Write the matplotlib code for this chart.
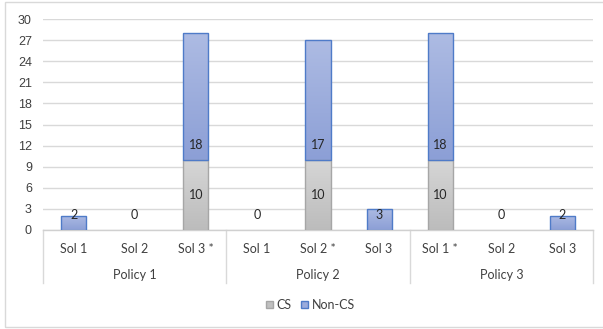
import numpy as np
import matplotlib.pyplot as plt
from matplotlib.patches import Rectangle
from matplotlib.colors import LinearSegmentedColormap

plt.rcParams['font.family'] = ['Lato', 'DejaVu Sans']

sols = ['Sol 1', 'Sol 2', 'Sol 3 *', 'Sol 1', 'Sol 2 *', 'Sol 3', 'Sol 1 *', 'Sol 2', 'Sol 3']
policies = ['Policy 1', 'Policy 2', 'Policy 3']
cs = [0, 0, 10, 0, 10, 0, 10, 0, 0]
non_cs = [2, 0, 18, 0, 17, 3, 18, 0, 2]
yticks = list(range(0, 31, 3))

W, H = 603, 329
fig = plt.figure(figsize=(W / 100, H / 100), dpi=100)
ax = fig.add_axes([43 / W, (H - 230) / H, 550 / W, 211 / H])

x = np.arange(len(sols))
bw = 0.41

grey_cmap = LinearSegmentedColormap.from_list('g', ['#bcbcbc', '#d6d6d6'])
blue_cmap = LinearSegmentedColormap.from_list('b', ['#8c9fd6', '#adbbe3'])
grad = np.linspace(0, 1, 64).reshape(-1, 1)


def gradient_bar(xc, bottom, height, cmap, edge):
    if height <= 0:
        return
    rect = Rectangle((xc - bw / 2, bottom), bw, height, facecolor='none',
                     edgecolor=edge, linewidth=1.0, zorder=3)
    ax.add_patch(rect)
    im = ax.imshow(grad, cmap=cmap, origin='lower', aspect='auto',
                   extent=(xc - bw / 2, xc + bw / 2, bottom, bottom + height), zorder=2)
    im.set_clip_path(rect)


for i in range(len(sols)):
    gradient_bar(x[i], 0, cs[i], grey_cmap, '#a6a6a6')
    gradient_bar(x[i], cs[i], non_cs[i], blue_cmap, '#4f7bc8')
    if cs[i] > 0:
        ax.text(x[i], cs[i] / 2, str(cs[i]), ha='center', va='center',
                fontsize=9, color='#262626', zorder=4)
    ax.annotate(str(non_cs[i]), (x[i], cs[i]), xytext=(0, 10.8),
                textcoords='offset points', ha='center', va='center',
                fontsize=9, color='#262626', zorder=4)

ax.set_xlim(-0.5, len(sols) - 0.5)
ax.set_ylim(0, 30)
ax.set_yticks(yticks)
ax.tick_params(axis='y', length=0, labelsize=9, labelcolor='#404040', pad=8)
ax.set_yticklabels([str(t) for t in yticks], family=['Liberation Sans'])
ax.set_xticks([])
ax.grid(axis='y', color='#d9d9d9', linewidth=1.0, zorder=0)
ax.set_axisbelow(True)
for s in ['left', 'right', 'top']:
    ax.spines[s].set_visible(False)
ax.spines['bottom'].set_color('#d0d0d0')
ax.spines['bottom'].set_linewidth(1.0)

# two-level category axis
tr = ax.get_xaxis_transform()
for i, s in enumerate(sols):
    ax.text(x[i], -0.09, s, transform=tr, ha='center', va='center',
            fontsize=9, color='#404040')
for j, p in enumerate(policies):
    ax.text(3 * j + 1, -0.213, p, transform=tr, ha='center', va='center',
            fontsize=9, color='#404040')
for k in range(4):
    ax.plot([3 * k - 0.5, 3 * k - 0.5], [0, -0.251], transform=tr,
            color='#d9d9d9', linewidth=1.0, clip_on=False)

handles = [Rectangle((0, 0), 1, 1, facecolor='#c0c0c0', edgecolor='#a6a6a6'),
           Rectangle((0, 0), 1, 1, facecolor='#9aabdc', edgecolor='#4f7bc8')]
fig.legend(handles, ['CS', 'Non-CS'], loc='center',
           bbox_to_anchor=(0.515, (H - 305) / H), ncol=2, frameon=False,
           fontsize=9, handlelength=0.55, handleheight=0.55, handletextpad=0.3,
           columnspacing=0.8, labelcolor='#404040')

fig.patches.append(Rectangle((5 / W, 2 / H), 1.0, (H - 3.5) / H, transform=fig.transFigure,
                             facecolor='none', edgecolor='#d9d9d9', linewidth=1.0))

fig.savefig('out.png', dpi=100)
